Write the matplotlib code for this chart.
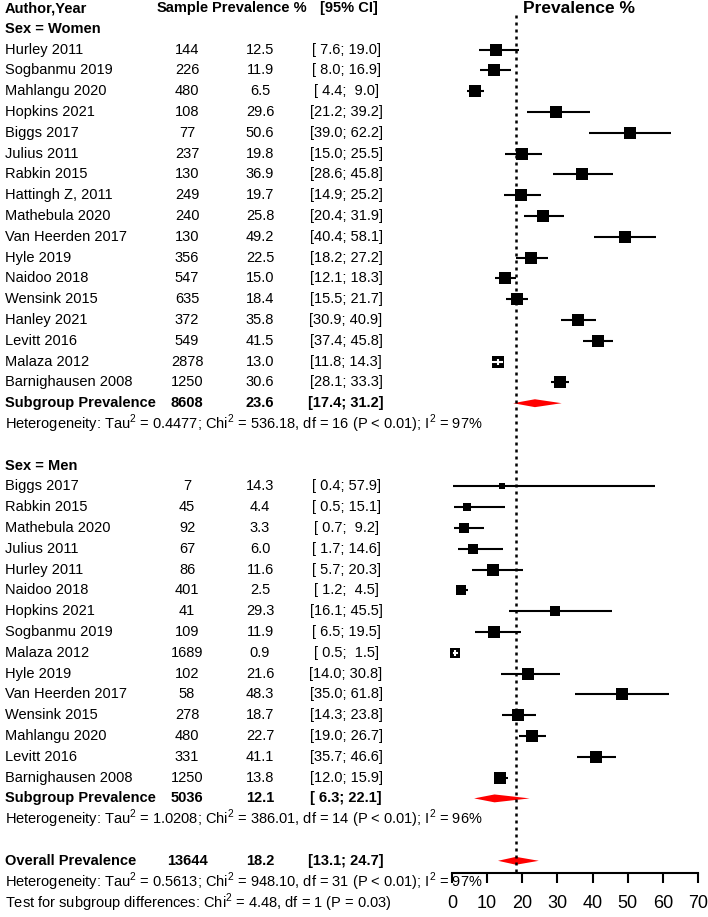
import matplotlib
matplotlib.use('Agg')
import matplotlib.pyplot as plt
from matplotlib.patches import Polygon
from matplotlib.transforms import blended_transform_factory

plt.rcParams['font.family'] = 'Liberation Sans'
plt.rcParams['mathtext.fontset'] = 'custom'
plt.rcParams['mathtext.rm'] = 'Liberation Sans'
plt.rcParams['mathtext.bf'] = 'Liberation Sans:bold'

# ---- data ----
women_study = ['Hurley 2011', 'Sogbanmu 2019', 'Mahlangu 2020', 'Hopkins 2021', 'Biggs 2017',
               'Julius 2011', 'Rabkin 2015', 'Hattingh Z, 2011', 'Mathebula 2020',
               'Van Heerden 2017', 'Hyle 2019', 'Naidoo 2018', 'Wensink 2015', 'Hanley 2021',
               'Levitt 2016', 'Malaza 2012', 'Barnighausen 2008']
women_n = [144, 226, 480, 108, 77, 237, 130, 249, 240, 130, 356, 547, 635, 372, 549, 2878, 1250]
women_prev = [12.5, 11.9, 6.5, 29.6, 50.6, 19.8, 36.9, 19.7, 25.8, 49.2, 22.5, 15.0, 18.4,
              35.8, 41.5, 13.0, 30.6]
women_lo = [7.6, 8.0, 4.4, 21.2, 39.0, 15.0, 28.6, 14.9, 20.4, 40.4, 18.2, 12.1, 15.5,
            30.9, 37.4, 11.8, 28.1]
women_hi = [19.0, 16.9, 9.0, 39.2, 62.2, 25.5, 45.8, 25.2, 31.9, 58.1, 27.2, 18.3, 21.7,
            40.9, 45.8, 14.3, 33.3]
women_w = [5.9, 6.0, 6.0, 6.0, 5.8, 6.1, 6.0, 6.1, 6.1, 6.1, 6.1, 6.2, 6.2, 6.2, 6.2, 6.3, 6.3]

men_study = ['Biggs 2017', 'Rabkin 2015', 'Mathebula 2020', 'Julius 2011', 'Hurley 2011',
             'Naidoo 2018', 'Hopkins 2021', 'Sogbanmu 2019', 'Malaza 2012', 'Hyle 2019',
             'Van Heerden 2017', 'Wensink 2015', 'Mahlangu 2020', 'Levitt 2016',
             'Barnighausen 2008']
men_n = [7, 45, 92, 67, 86, 401, 41, 109, 1689, 102, 58, 278, 480, 331, 1250]
men_prev = [14.3, 4.4, 3.3, 6.0, 11.6, 2.5, 29.3, 11.9, 0.9, 21.6, 48.3, 18.7, 22.7, 41.1, 13.8]
men_lo = [0.4, 0.5, 0.7, 1.7, 5.7, 1.2, 16.1, 6.5, 0.5, 14.0, 35.0, 14.3, 19.0, 35.7, 12.0]
men_hi = [57.9, 15.1, 9.2, 14.6, 20.3, 4.5, 45.5, 19.5, 1.5, 30.8, 61.8, 23.8, 26.7, 46.6, 15.9]
men_w = [2.0, 3.0, 3.7, 4.5, 5.5, 5.3, 5.0, 5.5, 5.2, 5.5, 5.5, 6.2, 5.8, 5.8, 6.2]

# subgroup / overall: n, estimate, lower, upper
women_pooled = [8608, 23.6, 17.4, 31.2]
men_pooled = [5036, 12.1, 6.3, 22.1]
overall_pooled = [13644, 18.2, 13.1, 24.7]

women_het = r'Heterogeneity: Tau$^2$ = 0.4477; Chi$^2$ = 536.18, df = 16 (P < 0.01); I$^2$ = 97%'
men_het = r'Heterogeneity: Tau$^2$ = 1.0208; Chi$^2$ = 386.01, df = 14 (P < 0.01); I$^2$ = 96%'
overall_het = r'Heterogeneity: Tau$^2$ = 0.5613; Chi$^2$ = 948.10, df = 31 (P < 0.01); I$^2$ = 97%'
subgroup_test = r'Test for subgroup differences: Chi$^2$ = 4.48, df = 1 (P = 0.03)'

xticks = [0, 10, 20, 30, 40, 50, 60, 70]

# ---- layout (pixels of a 708x917 canvas) ----
W, H = 708, 917
ROW0, ROWH = 8, 20.8
AX_L, AX_R, AX_B = 452, 698, 873
fs = 10.5

fig = plt.figure(figsize=(W / 100, H / 100), dpi=100)
ax = fig.add_axes([AX_L / W, (H - AX_B) / H, (AX_R - AX_L) / W, AX_B / H])
ax.set_xlim(0, 70)
ax.set_ylim((AX_B - ROW0) / ROWH, (0 - ROW0) / ROWH)
for s in ['top', 'left', 'right']:
    ax.spines[s].set_visible(False)
ax.spines['bottom'].set_linewidth(1.5)
ax.set_yticks([])
ax.set_xticks(xticks)
ax.tick_params(axis='x', direction='out', length=7, width=1.5, pad=9, labelsize=13)

tr = blended_transform_factory(fig.transFigure, ax.transData)
px_per_unit = (AX_R - AX_L) / 70


def txt(xpx, row, s, ha='left', bold=False, size=fs):
    ax.text(xpx / W, row, s, transform=tr, ha=ha, va='center', fontsize=size,
            fontweight='bold' if bold else 'normal', clip_on=False)


def study_row(row, name, n, p, lo, hi, w):
    txt(5, row, name)
    txt(187, row, str(n), ha='center')
    txt(260, row, f'{p:.1f}', ha='center')
    txt(346, row, f'[{lo:4.1f}; {hi:4.1f}]', ha='center')
    side = 4.7 * w ** 0.5
    ax.plot([lo, hi], [row, row], color='black', lw=1.5, solid_capstyle='butt', clip_on=False)
    ax.plot(p, row, marker='s', ms=side * 0.72, color='black', mew=0, clip_on=False)
    if (hi - lo) * px_per_unit < side:
        # CI narrower than the box: draw it in white on top
        ax.plot([lo, hi], [row, row], color='white', lw=1.5, clip_on=False)
        ax.plot(p, row, marker='|', ms=4, color='white', mew=1.5, clip_on=False)


def pooled_row(row, label, vals):
    n, est, lo, hi = vals
    txt(5, row, label, bold=True)
    txt(187, row, str(n), ha='center', bold=True)
    txt(260, row, f'{est:.1f}', ha='center', bold=True)
    txt(346, row, f'[{lo:4.1f}; {hi:4.1f}]', ha='center', bold=True)
    h = 0.19
    ax.add_patch(Polygon([(lo, row), (est, row - h), (hi, row), (est, row + h)],
                         closed=True, facecolor='red', edgecolor='none', clip_on=False))


# header
txt(5, 0, 'Author,Year', bold=True)
txt(183, 0, 'Sample', bold=True, ha='center')
txt(259, 0, 'Prevalence %', bold=True, ha='center')
txt(349, 0, '[95% CI]', bold=True, ha='center')
txt(579, 0, 'Prevalence %', bold=True, ha='center', size=12.5)

# women
txt(5, 1, 'Sex = Women', bold=True)
for i in range(len(women_study)):
    study_row(2 + i, women_study[i], women_n[i], women_prev[i], women_lo[i], women_hi[i], women_w[i])
r = 2 + len(women_study)
pooled_row(r, 'Subgroup Prevalence', women_pooled)
txt(5, r + 1, women_het)

# men
r0 = r + 3
txt(5, r0, 'Sex = Men', bold=True)
for i in range(len(men_study)):
    study_row(r0 + 1 + i, men_study[i], men_n[i], men_prev[i], men_lo[i], men_hi[i], men_w[i])
r = r0 + 1 + len(men_study)
pooled_row(r, 'Subgroup Prevalence', men_pooled)
txt(5, r + 1, men_het)

# overall
r = r + 3
pooled_row(r, 'Overall Prevalence', overall_pooled)
txt(5, r + 1, overall_het)
txt(5, r + 2, subgroup_test)

# reference line at overall estimate
ax.plot([overall_pooled[1]] * 2, [(15 - ROW0) / ROWH, (AX_B - ROW0) / ROWH], color='black',
        lw=1.8, dashes=(1.2, 1.6), clip_on=False)

fig.savefig('out.png', dpi=100)
